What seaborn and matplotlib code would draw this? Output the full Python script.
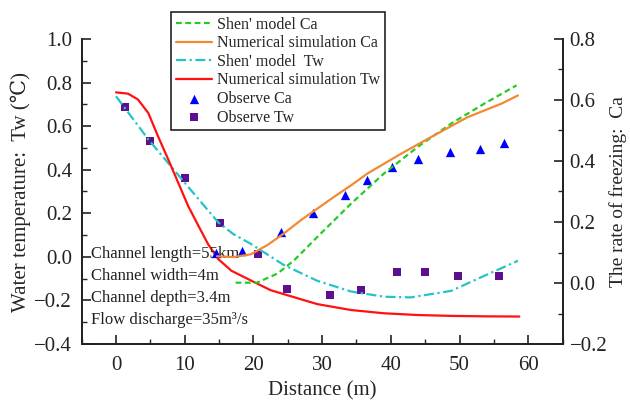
import numpy as np
import pandas as pd
import matplotlib
matplotlib.use("Agg")
import matplotlib.pyplot as plt
from matplotlib.ticker import MultipleLocator
import seaborn as sns

# observed data
obs_tw_x = [1.3, 5.0, 10.1, 15.2, 20.7, 24.9, 31.2, 35.6, 40.9, 45.0, 49.8, 55.7]
obs_tw_y = [0.686, 0.53, 0.363, 0.157, 0.015, -0.148, -0.175, -0.152, -0.07, -0.07, -0.088, -0.088]
obs_ca_x = [14.5, 18.3, 24.0, 28.6, 33.3, 36.6, 40.2, 44.0, 48.6, 53.0, 56.4]
obs_ca_y = [0.099, 0.105, 0.167, 0.228, 0.29, 0.337, 0.38, 0.408, 0.43, 0.44, 0.459]

# numerical simulation Tw
num_tw_x = [0, 1.75, 3.2, 4.7, 6.1, 7.6, 9.05, 10.5, 12.0, 13.4, 14.9, 16.8, 19.6,
            22.5, 24.4, 29.3, 34.2, 39.0, 43.9, 48.8, 53.6, 58.7]
num_tw_y = [0.755, 0.749, 0.722, 0.66, 0.554, 0.447, 0.34, 0.233, 0.142, 0.058, -0.011,
            -0.064, -0.108, -0.153, -0.171, -0.217, -0.244, -0.259, -0.267, -0.271, -0.273, -0.274]
# Shen' model Tw
shen_tw_x = [0, 4.7, 10.0, 14.9, 17.1, 19.6, 24.4, 29.3, 34.2, 39.0, 42.9, 48.8, 53.6, 58.5]
shen_tw_y = [0.737, 0.539, 0.34, 0.157, 0.104, 0.06, -0.037, -0.11, -0.159, -0.183, -0.186,
             -0.156, -0.087, -0.018]
# numerical simulation Ca
num_ca_x = [14.7, 17.1, 19.6, 22.0, 24.4, 26.9, 29.3, 31.7, 34.2, 36.6, 41.5, 46.3, 51.2, 56.1, 58.5]
num_ca_y = [0.0875, 0.085, 0.094, 0.124, 0.162, 0.206, 0.244, 0.282, 0.32, 0.359, 0.424,
            0.484, 0.544, 0.588, 0.615]
# Shen' model Ca
shen_ca_x = [17.4, 20.5, 23.5, 25.9, 29.3, 34.2, 39.0, 43.9, 48.8, 53.6, 58.3]
shen_ca_y = [0.001, 0.001, 0.031, 0.074, 0.151, 0.26, 0.359, 0.446, 0.523, 0.588, 0.648]

notes = ["Channel length=55km", "Channel width=4m", "Channel depth=3.4m", "Flow discharge=35m³/s"]

sns.set_style("ticks")
plt.rcParams['font.family'] = ['Liberation Serif', 'DejaVu Serif', 'DejaVu Sans']

fig = plt.figure(figsize=(6.3, 4.0), dpi=100)
ax = fig.add_axes([0.1297, 0.14, 0.7633, 0.7625])
ax2 = ax.twinx()

sns.lineplot(x=shen_ca_x, y=shen_ca_y, ax=ax2, color="#22cc22", lw=1.6,
             linestyle=(0, (2.6, 1.6)), label="Shen' model Ca", legend=False)
sns.lineplot(x=num_ca_x, y=num_ca_y, ax=ax2, color="#f08a35", lw=1.6,
             label="Numerical simulation Ca", legend=False)
sns.lineplot(x=shen_tw_x, y=shen_tw_y, ax=ax, color="#22c4c8", lw=1.6,
             linestyle=(0, (4.5, 1.6, 1, 1.6)), label="Shen' model  Tw", legend=False)
sns.lineplot(x=num_tw_x, y=num_tw_y, ax=ax, color="#ff1111", lw=1.6,
             label="Numerical simulation Tw", legend=False)
sns.scatterplot(x=obs_ca_x, y=obs_ca_y, ax=ax2, color="#0000ff", marker="^", s=45,
                linewidth=0, label="Observe Ca", legend=False)
sns.scatterplot(x=obs_tw_x, y=obs_tw_y, ax=ax, color="#5e0f8f", marker="s", s=32,
                linewidth=0, label="Observe Tw", legend=False)

ax.set_xlim(-5, 65)
ax.set_ylim(-0.4, 1.0)
ax2.set_ylim(-0.2, 0.8)
ax.xaxis.set_major_locator(MultipleLocator(10))
ax.xaxis.set_minor_locator(MultipleLocator(5))
ax.yaxis.set_major_locator(MultipleLocator(0.2))
ax.yaxis.set_minor_locator(MultipleLocator(0.1))
ax2.yaxis.set_major_locator(MultipleLocator(0.2))
ax2.yaxis.set_minor_locator(MultipleLocator(0.1))
ax.yaxis.set_major_formatter(lambda v, p: f"{v:.1f}".replace("-", "\u2212"))
ax2.yaxis.set_major_formatter(lambda v, p: f"{v:.1f}".replace("-", "\u2212"))

for a in (ax, ax2):
    a.tick_params(which="major", direction="in", length=6.5, width=1.2, labelsize=15,
                  colors="#222222", pad=7)
    a.tick_params(which="minor", direction="in", length=3.5, width=1.0)
    for s in a.spines.values():
        s.set_linewidth(1.3)
        s.set_color("#222222")
    a.spines["top"].set_visible(False)
ax.tick_params(axis="x", which="major", pad=9)
ax2.tick_params(axis="y", which="major", pad=5)

ax.set_xlabel("Distance (m)", fontsize=15, labelpad=4)
ax.set_ylabel("Water temperature:  Tw (℃)", fontsize=15, labelpad=2)
ax2.set_ylabel("The rate of freezing:  Ca", fontsize=14, labelpad=1)

ys = [0.295, 0.222, 0.152, 0.08]
for t, y in zip(notes, ys):
    ax.text(0.019, y, t, transform=ax.transAxes, fontsize=12, va="center", ha="left", color="#222222")

h1, l1 = ax.get_legend_handles_labels()
h2, l2 = ax2.get_legend_handles_labels()
hd = dict(zip(l1 + l2, h1 + h2))
order = ["Shen' model Ca", "Numerical simulation Ca", "Shen' model  Tw",
         "Numerical simulation Tw", "Observe Ca", "Observe Tw"]
leg = fig.legend([hd[k] for k in order], order, loc="upper left",
                 bbox_to_anchor=(0.271, 0.97), fontsize=11.5, frameon=True,
                 fancybox=False, framealpha=1, edgecolor="#222222",
                 handlelength=2.3, handletextpad=0.3, borderpad=0.3,
                 labelspacing=0.16, borderaxespad=0)
leg.get_frame().set_linewidth(1.2)

fig.savefig("out.png", dpi=100)
